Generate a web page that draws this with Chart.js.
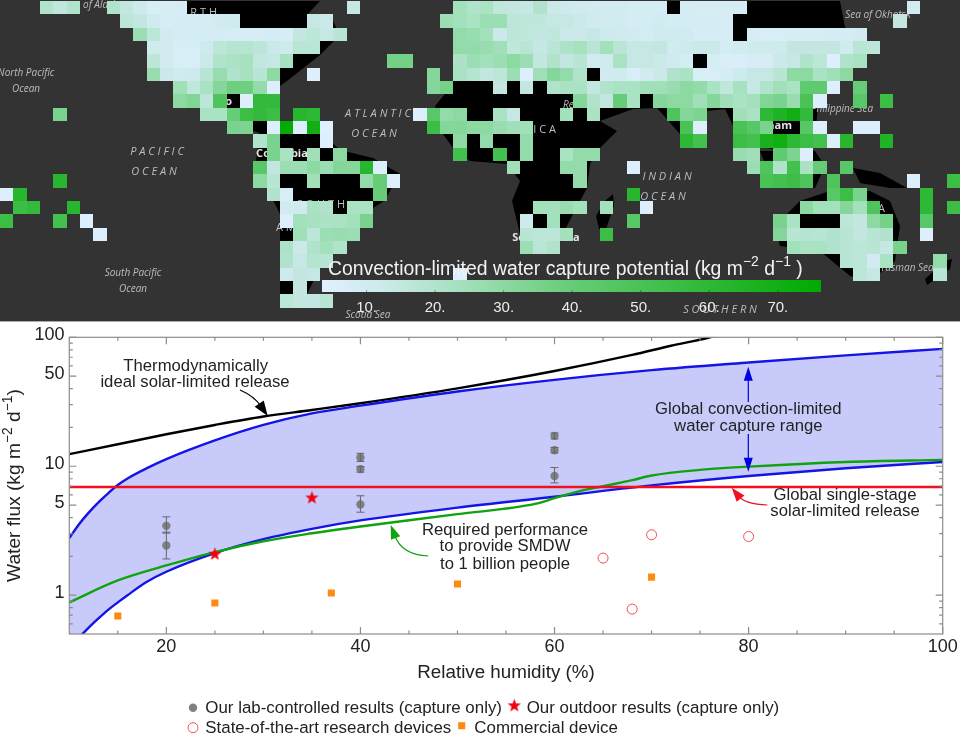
<!DOCTYPE html>
<html>
<head>
<meta charset="utf-8">
<title>Water capture</title>
<script src="https://cdn.jsdelivr.net/npm/chart.js@4"></script>
<style>
    html, body { margin: 0; padding: 0; background: #fff; }
    #page { position: relative; width: 960px; height: 748px; overflow: hidden; }
    canvas { position: absolute; left: 0; filter: blur(0.45px); }
    #mapa { top: 0; background: #333; box-shadow: 0 1px 0 #aaa; }
    #barra { top: 255px; }
    #fluxo { top: 322px; }
</style>
</head>
<body>
<div id="page">
    <canvas id="mapa" width="960" height="321"></canvas>
    <canvas id="barra" width="960" height="66"></canvas>
    <canvas id="fluxo" width="960" height="426"></canvas>
</div>
<script>
// Map cells, one list per row, each run is [first column, value, value, ...]
const mapRows = [
    [[3,20,16,20],[8,20,15,12,7,7,8],[26,14],[34,24,20,22,16,15,14,20,13,12,11,10,10,10,9,9,9],[51,9,8,8,8,8],[68,10]],
    [[9,17,15,11,8,9,9,9,10,11],[23,14,13],[33,26,24,22,26,26,17,16,16,14,14,13,11,10,10,9,9,10,9,9,9,9,8],[67,15]],
    [[10,26,17,10,9,9,9,9,8,8,8,9,8,15,17,14,18],[34,28,27,24,13,17,16,15,16,13,13,14,12,11,10,9,11,11,10,8,8,8],[56,8,7,7,8,8,8,9,9,10]],
    [[11,11,10,7,7,12,17,19,19,17,13,12,18,18],[34,28,28,27,25,16,18,14,18,21,23,18,24,18,14,14,15,10,12,13,13,9,10,11,11,12,15,15,15,15,11,18,17]],
    [[11,17,10,7,7,13,20,22,23,15,14,23],[29,36,36],[34,21,26,24,26,30,26,15,20,15,18,10,11,22,14,14,13,11,9],[53,8,6,6,8,8,13,14,20,17,5,20,22]],
    [[11,27,13,11,12,18,27,20,23,18,30],[23,5],[32,32],[34,22,19,15,17,26,5,25,32,28,20],[45,10,11,7,10,13,20,22,7,7,9,12,14,14,18,30,30,22,25,30]],
    [[13,25,16,22,32,38,38,28,5],[32,32,36],[37,15],[39,15],[41,20,22,22,15,20,22,22,25,25,27,30,28,22,16,23,14,20,25,22,42,42,5],[64,40]],
    [[13,30,33,17,48],[18,5,58,58],[43,32,20,15,40,22],[49,32,30,30,25,32,25,22,24,33,35,27,50,5],[64,45],[66,55]],
    [[4,35],[15,22,22,40,55,58,55],[22,62,60],[31,5,45,28,30],[37,22,14],[42,24],[44,22],[50,48,32,34],[55,25,22,60,65,70,58]],
    [[17,35,34],[20,5,75,5,70,4],[32,55,32,32,30,30,27,25,25],[51,50,5],[55,50,45,35],[60,45,5],[64,5,5]],
    [[19,20,35],[24,5],[34,30],[36,28],[39,28],[51,60,52],[55,55,52,68,70,60,55,52,5,62],[66,65]],
    [[20,35,22],[23,25],[25,30],[34,52],[37,52],[39,28],[42,22,28,28],[55,27,25],[58,42,34,5]],
    [[19,45,15,26,26,30,26,32,32,62,5],[38,25],[42,28,28],[47,5],[56,26,48,20,52,22,40],[63,45]],
    [[4,62],[19,30,18],[23,25],[27,28,40,5],[43,28],[57,50,52,54,48],[62,48],[68,5],[71,55]],
    [[0,5,62],[20,20,7],[28,40],[47,62],[62,45,55,35],[69,60]],
    [[1,55,58],[5,62],[21,10,11,22,20],[26,22,22],[40,24,24,27,24],[45,24],[48,5],[60,30,24,24,32,24,48],[69,60],[71,55]],
    [[0,55],[4,52],[6,5],[21,5,24,23,21,22,24,35],[39,12],[41,24],[47,45],[58,35,22],[63,17,15,30,36],[69,45]],
    [[7,5],[22,25,17,26,27,26],[39,18,17,17,24],[45,55],[58,32,18,19,18,20,18,15,18,20],[69,5]],
    [[21,21,13,20,24,20],[39,26,18,20],[59,24,22,22,20,18,17,18,14,35]],
    [[21,20,14,19,18],[63,18,17,10,22],[70,28]],
    [[21,12,15,14],[34,5],[64,17,14],[70,18]],
    [[22,15]],
    [[21,17,15,15,18]],
    []
];

// Land outlines in map units
const landAmericaNorte = [[107,0],[320,0],[307,14],[333,20],[340,34],[320,54],[287,80],[267,94],[240,100],[200,87],[173,74],[147,40],[133,27]];
const landAmericaCentro = [[200,87],[240,100],[267,120],[280,127],[267,134],[253,130],[227,107]];
const landAmericaSul = [[260,127],[280,130],[320,131],[340,149],[373,157],[400,173],[384,200],[373,207],[360,220],[347,240],[333,247],[320,267],[307,293],[293,300],[280,300],[280,253],[280,213],[267,187],[256,160]];
const landAfroEurasia = [[453,0],[840,0],[845,26],[860,40],[850,70],[820,85],[815,135],[780,150],[757,145],[737,133],[725,108],[707,110],[693,147],[680,133],[657,107],[633,108],[600,120],[617,130],[600,147],[590,163],[587,187],[573,213],[563,233],[557,250],[527,253],[520,233],[512,200],[520,180],[507,163],[470,160],[453,147],[443,133],[435,105],[453,83]];
const landIndonesia = [[760,150],[815,150],[825,165],[815,187],[775,187]];
const landPapua = [[853,167],[880,172],[907,187],[890,187],[860,182]];
const landAustralia = [[775,225],[800,200],[830,190],[870,190],[890,200],[900,225],[895,260],[870,280],[850,275],[820,250],[780,245]];
const landNovaZelandia = [[927,284],[950,268],[952,258],[945,260],[925,278]];
const landMadagascar = [[599,228],[596,215],[605,200],[613,193],[614,205],[606,228]];
const mapLand = [landAmericaNorte, landAmericaCentro, landAmericaSul, landAfroEurasia, landIndonesia, landPapua, landAustralia, landNovaZelandia, landMadagascar];

// Colour ramp of the map
const rampValues = [3.5, 12, 25, 40, 60, 76.3];
const rampColors = [[224,240,255], [205,234,236], [160,223,184], [102,204,119], [45,184,53], [0,170,0]];
const colorbarTicks = [10, 20, 30, 40, 50, 60, 70];

// Place names under the cells: text, x, y, font, align
const mapLabels = [
    ['of Alaska', 83, 4, 'italic 10px', 'left'],
    ['N O R T H', 217, 12, '11px', 'right'],
    ['North Pacific', 26, 72, 'italic 10px', 'center'],
    ['Ocean', 26, 88, 'italic 10px', 'center'],
    ['P A C I F I C', 157, 151, 'italic 11px', 'center'],
    ['O C E A N', 154, 171, 'italic 11px', 'center'],
    ['A T L A N T I C', 378, 113, 'italic 11px', 'center'],
    ['O C E A N', 374, 133, 'italic 11px', 'center'],
    ['Mexico', 232, 101, 'bold 11px', 'right'],
    ['Colombia', 282, 153, 'bold 11px', 'center'],
    ['S O U T H', 345, 204, '11px', 'right'],
    ['A M E R I C A', 276, 227, '11px', 'left'],
    ['South Pacific', 133, 272, 'italic 10px', 'center'],
    ['Ocean', 133, 288, 'italic 10px', 'center'],
    ['Scotia Sea', 368, 314, 'italic 10px', 'center'],
    ['S O U T H E R N', 720, 309, 'italic 11px', 'center'],
    ['A F R I C A', 556, 129, '11px', 'right'],
    ['Red Sea', 563, 104, 'italic 10px', 'left'],
    ['South Africa', 546, 237, 'bold 11px', 'center'],
    ['I N D I A N', 667, 176, 'italic 11px', 'center'],
    ['O C E A N', 663, 196, 'italic 11px', 'center'],
    ['Vietnam', 792, 125, 'bold 11px', 'right'],
    ['Philippine Sea', 842, 108, 'italic 10px', 'center'],
    ['Sea of Okhotsk', 878, 14, 'italic 10px', 'center'],
    ['A U S T R A L I A', 885, 208, '11px', 'right'],
    ['Tasman Sea', 907, 267, 'italic 10px', 'center']
];

// Lower chart
const curveHumidity = [10, 11, 12, 13, 14, 15, 16, 18, 20, 25, 30, 35, 40, 50, 60, 70, 80, 90, 100];
const convectionUpper = [2.77, 3.55, 4.37, 5.25, 6.17, 7.16, 8.04, 9.66, 11.35, 15.85, 20.9, 25.7, 29.5, 38, 46.8, 55.6, 63.8, 72.4, 81.3];
const convectionLower = [0.4, 0.47, 0.56, 0.66, 0.77, 0.88, 1.0, 1.27, 1.52, 2.12, 2.72, 3.27, 3.8, 4.78, 5.8, 7.1, 8.4, 9.65, 10.8];

const blackHumidity = [10, 15, 20, 25, 30, 35, 40, 50, 60, 68, 72, 76, 80];
const blackFlux = [12.4, 14.8, 17.7, 20.9, 24.3, 27.3, 30.8, 40.2, 54.8, 73, 86, 100, 125];

const greenHumidity = [10, 15, 20, 25, 30, 35, 40, 50, 58, 60, 62, 65, 68, 70, 75, 80, 90, 100];
const greenFlux = [0.88, 1.3, 1.7, 2.16, 2.62, 3.02, 3.41, 4.25, 5.1, 5.65, 6.25, 7.0, 7.8, 8.47, 9.37, 9.94, 10.8, 11.2];

const redHumidity = [10, 100];
const redFlux = [6.9, 6.9];

const labHumidity = [20, 20, 40, 40, 40, 60, 60, 60];
const labFlux = [3.45, 2.43, 11.7, 9.5, 5.05, 17.2, 13.3, 8.4];
const labLow = [3.03, 1.91, 10.9, 9, 4.4, 16.3, 12.7, 7.43];
const labHigh = [4.05, 3.08, 12.6, 9.94, 5.9, 18.1, 14, 9.77];

const outdoorHumidity = [25, 35];
const outdoorFlux = [2.08, 5.68];

const researchHumidity = [65, 70, 68, 80];
const researchFlux = [1.94, 2.94, 0.78, 2.85];

const commercialHumidity = [15, 25, 37, 50, 70];
const commercialFlux = [0.69, 0.87, 1.04, 1.22, 1.38];

const xLabelTicks = [20, 40, 60, 80, 100];
const xMinorTicks = [15, 25, 30, 35, 45, 50, 55, 65, 70, 75, 85, 90, 95];
const yLabelTicks = [1, 5, 10, 50, 100];
const yMinorTicks = [0.6, 0.7, 0.8, 0.9, 2, 3, 4, 6, 7, 8, 9, 20, 30, 40, 60, 70, 80, 90];

const FONTE = '"Liberation Sans", Arial, sans-serif';
const TEXTO = '#222';
const AZUL = '#1414e6';
const VERDE = '#0fa30f';
const VERMELHO = '#f01020';
const CELULA = 960 / 72;

function juntar(xs, ys) {
    return xs.map((x, i) => ({ x: x, y: ys[i] }));
}

function corDoValor(v) {
    let i = 0;
    while (i < rampValues.length - 2 && v > rampValues[i + 1]) i++;
    const t = Math.min(1, Math.max(0, (v - rampValues[i]) / (rampValues[i + 1] - rampValues[i])));
    const c = rampColors[i].map((a, k) => Math.round(a + (rampColors[i + 1][k] - a) * t));
    return `rgb(${c[0]},${c[1]},${c[2]})`;
}

// Text with raised parts, pieces are [text, raised]
function textoComExpoente(ctx, pedacos, x, y, tamanho) {
    let pos = x;
    ctx.textBaseline = 'middle';
    ctx.textAlign = 'left';
    pedacos.forEach(([texto, alto]) => {
        ctx.font = `${alto ? tamanho * 0.72 : tamanho}px ${FONTE}`;
        ctx.fillText(texto, pos, alto ? y - tamanho * 0.36 : y);
        pos += ctx.measureText(texto).width;
    });
}

function seta(ctx, x0, y0, cx, cy, x1, y1, cor, largura, compr, meia) {
    const ang = Math.atan2(y1 - cy, x1 - cx);
    const bx = x1 - Math.cos(ang) * compr * 0.8;
    const by = y1 - Math.sin(ang) * compr * 0.8;
    ctx.strokeStyle = cor;
    ctx.fillStyle = cor;
    ctx.lineWidth = largura;
    ctx.beginPath();
    ctx.moveTo(x0, y0);
    ctx.quadraticCurveTo(cx, cy, bx, by);
    ctx.stroke();
    ctx.beginPath();
    ctx.moveTo(x1, y1);
    ctx.lineTo(x1 - Math.cos(ang) * compr - Math.sin(ang) * meia, y1 - Math.sin(ang) * compr + Math.cos(ang) * meia);
    ctx.lineTo(x1 - Math.cos(ang) * compr + Math.sin(ang) * meia, y1 - Math.sin(ang) * compr - Math.cos(ang) * meia);
    ctx.closePath();
    ctx.fill();
}

// Mapa: cada celula e um ponto com um quadrado de tamanho inteiro, assim nao aparecem emendas
const celulas = [];
const quadrados = {};
function quadrado(l, a, cor) {
    const chave = l + '/' + a + '/' + cor;
    if (!quadrados[chave]) {
        const tela = document.createElement('canvas');
        tela.width = l;
        tela.height = a;
        const c = tela.getContext('2d');
        c.fillStyle = cor;
        c.fillRect(0, 0, l, a);
        quadrados[chave] = tela;
    }
    return quadrados[chave];
}
mapRows.forEach((linha, r) => {
    const y0 = Math.round(r * CELULA);
    const y1 = Math.round((r + 1) * CELULA);
    linha.forEach(([inicio, ...valores]) => {
        valores.forEach((v, i) => {
            const x0 = Math.round((inicio + i) * CELULA);
            const x1 = Math.round((inicio + i + 1) * CELULA);
            celulas.push({ x: (x0 + x1) / 2, y: (y0 + y1) / 2, v: v, l: x1 - x0, a: y1 - y0 });
        });
    });
});

const nomesNoMapa = {
    id: 'nomesNoMapa',
    beforeDatasetDraw(chart, args) {
        if (args.index !== 0) return;
        const { ctx, scales } = chart;
        ctx.save();
        ctx.textBaseline = 'middle';
        mapLabels.forEach(([texto, x, y, fonte, alinhar]) => {
            ctx.font = `${fonte} "Open Sans", ${FONTE}`;
            ctx.textAlign = alinhar;
            ctx.fillStyle = fonte.startsWith('bold') ? '#e4e4e4' : '#bdbdbd';
            ctx.fillText(texto, scales.x.getPixelForValue(x), scales.y.getPixelForValue(y));
        });
        ctx.restore();
    }
};

new Chart(document.getElementById('mapa'), {
    type: 'scatter',
    data: {
        datasets: [{
            data: celulas,
            pointRadius: 7,
            pointBorderWidth: 0,
            pointStyle: c => (c.raw ? quadrado(c.raw.l, c.raw.a, corDoValor(c.raw.v)) : 'rect')
        }].concat(mapLand.map(contorno => ({
            data: contorno.map(([x, y]) => ({ x: x, y: y })),
            showLine: true,
            fill: 'shape',
            backgroundColor: '#000',
            borderColor: '#000',
            borderWidth: 0,
            pointRadius: 0
        })))
    },
    options: {
        responsive: false,
        animation: false,
        devicePixelRatio: 1,
        events: [],
        layout: { autoPadding: false, padding: { top: 1 } },
        plugins: { legend: { display: false }, tooltip: { enabled: false } },
        scales: {
            x: { type: 'linear', display: false, min: 0, max: 960 },
            y: { type: 'linear', display: false, min: 0, max: 320, reverse: true }
        }
    },
    plugins: [nomesNoMapa]
});

// Barra de cores
const barraDeCores = {
    id: 'barraDeCores',
    beforeDatasetsDraw(chart) {
        const { ctx, chartArea: a, scales } = chart;
        const grad = ctx.createLinearGradient(a.left, 0, a.right, 0);
        const total = rampValues[rampValues.length - 1] - rampValues[0];
        rampValues.forEach((v, i) => {
            grad.addColorStop((v - rampValues[0]) / total, corDoValor(v));
        });
        ctx.save();
        ctx.fillStyle = grad;
        ctx.fillRect(a.left, a.top, a.right - a.left, a.bottom - a.top);
        ctx.strokeStyle = 'rgba(0,0,0,0.35)';
        colorbarTicks.forEach(v => {
            const x = scales.x.getPixelForValue(v);
            ctx.beginPath();
            ctx.moveTo(x, a.bottom);
            ctx.lineTo(x, a.bottom - 2);
            ctx.stroke();
        });
        ctx.fillStyle = '#f2f2f2';
        textoComExpoente(ctx, [['Convection-limited water capture potential (kg m', 0], ['−2', 1], [' d', 0], ['−1', 1], [' )', 0]], 328, 14.5, 19.4);
        ctx.restore();
    }
};

new Chart(document.getElementById('barra'), {
    type: 'scatter',
    data: { datasets: [{ data: [], pointRadius: 0 }] },
    options: {
        responsive: false,
        animation: false,
        devicePixelRatio: 1,
        events: [],
        layout: { autoPadding: false, padding: { left: 322, right: 139, top: 25 } },
        plugins: { legend: { display: false }, tooltip: { enabled: false } },
        scales: {
            x: {
                type: 'linear',
                min: rampValues[0],
                max: rampValues[rampValues.length - 1],
                afterBuildTicks: s => { s.ticks = colorbarTicks.map(v => ({ value: v })); },
                afterFit: s => { s.height = 29; },
                grid: { display: false, drawTicks: false },
                border: { display: false },
                ticks: {
                    padding: 7,
                    color: '#ececec',
                    maxRotation: 0,
                    autoSkip: false,
                    font: { family: FONTE, size: 15 },
                    callback: v => v + '.'
                }
            },
            y: { display: false, min: 0, max: 1 }
        }
    },
    plugins: [barraDeCores]
});

// Grafico de fluxo
function estrela() {
    const tela = document.createElement('canvas');
    tela.width = 15;
    tela.height = 15;
    const c = tela.getContext('2d');
    c.fillStyle = '#f5000f';
    c.beginPath();
    for (let i = 0; i < 10; i++) {
        const r = i % 2 ? 2.9 : 7;
        const ang = -Math.PI / 2 + i * Math.PI / 5;
        c.lineTo(7.5 + r * Math.cos(ang), 7.5 + r * Math.sin(ang));
    }
    c.closePath();
    c.fill();
    return tela;
}
const marcaEstrela = estrela();

const desenhoFluxo = {
    id: 'desenhoFluxo',
    afterDatasetsDraw(chart) {
        const { ctx, scales: { x, y } } = chart;
        ctx.save();
        // barras de erro
        ctx.strokeStyle = '#666';
        ctx.lineWidth = 1;
        labHumidity.forEach((h, i) => {
            const px = x.getPixelForValue(h);
            const lo = y.getPixelForValue(labLow[i]);
            const hi = y.getPixelForValue(labHigh[i]);
            ctx.beginPath();
            ctx.moveTo(px, lo); ctx.lineTo(px, hi);
            ctx.moveTo(px - 4, lo); ctx.lineTo(px + 4, lo);
            ctx.moveTo(px - 4, hi); ctx.lineTo(px + 4, hi);
            ctx.stroke();
        });
        ctx.restore();
    },
    afterDraw(chart) {
        const { ctx, chartArea: a, scales: { x, y } } = chart;
        const topo = 322;
        ctx.save();
        // moldura e marcas
        ctx.strokeStyle = '#8c8c8c';
        ctx.lineWidth = 1.2;
        ctx.strokeRect(a.left, a.top, a.right - a.left, a.bottom - a.top);
        const marcaX = (lista, t) => lista.forEach(v => {
            const px = x.getPixelForValue(v);
            ctx.beginPath();
            ctx.moveTo(px, a.bottom); ctx.lineTo(px, a.bottom - t);
            ctx.moveTo(px, a.top); ctx.lineTo(px, a.top + t);
            ctx.stroke();
        });
        const marcaY = (lista, t) => lista.forEach(v => {
            const py = y.getPixelForValue(v);
            ctx.beginPath();
            ctx.moveTo(a.left, py); ctx.lineTo(a.left + t, py);
            ctx.moveTo(a.right, py); ctx.lineTo(a.right - t, py);
            ctx.stroke();
        });
        marcaX(xLabelTicks, 7);
        marcaX(xMinorTicks, 3.5);
        marcaY(yLabelTicks, 7);
        marcaY(yMinorTicks, 3.5);

        // rotulos do eixo y, um pouco acima da marca como na figura
        ctx.fillStyle = TEXTO;
        ctx.font = `18px ${FONTE}`;
        ctx.textAlign = 'right';
        ctx.textBaseline = 'middle';
        yLabelTicks.forEach(v => ctx.fillText(String(v), 64.5, y.getPixelForValue(v) - 2));

        // setas
        seta(ctx, 240, 390 - topo, 254, 396 - topo, 267.7, 416 - topo, '#000', 1.2, 15, 5.5);
        seta(ctx, 428.3, 556 - topo, 402, 555 - topo, 390.7, 525 - topo, VERDE, 1.2, 14, 5);
        seta(ctx, 767.3, 505 - topo, 745, 504 - topo, 731.7, 487.7 - topo, VERMELHO, 1.2, 14, 5);
        seta(ctx, 748.3, 402 - topo, 748.3, 385 - topo, 748.3, 366.7 - topo, '#0000e0', 1.2, 14, 4.5);
        seta(ctx, 748.3, 434 - topo, 748.3, 452 - topo, 748.3, 471.7 - topo, '#0000e0', 1.2, 14, 4.5);

        // anotacoes
        ctx.fillStyle = TEXTO;
        ctx.textBaseline = 'middle';
        ctx.textAlign = 'center';
        ctx.font = `16.7px ${FONTE}`;
        [
            ['Thermodynamically', 195.7, 366],
            ['ideal solar-limited release', 195, 382.7],
            ['Required performance', 505, 530],
            ['to provide SMDW', 505, 546.7],
            ['to 1 billion people', 505, 564],
            ['Global convection-limited', 748.3, 409.3],
            ['water capture range', 748.3, 426.3],
            ['Global single-stage', 845, 495],
            ['solar-limited release', 845, 511.7]
        ].forEach(([t, px, py]) => ctx.fillText(t, px, py - topo));

        // titulos
        ctx.font = `18.8px ${FONTE}`;
        ctx.fillText('Relative humidity (%)', 506, 672.7 - topo);
        ctx.save();
        ctx.translate(15, 582 - topo);
        ctx.rotate(-Math.PI / 2);
        textoComExpoente(ctx, [['Water flux (kg m', 0], ['−2', 1], [' d', 0], ['−1', 1], [')', 0]], 0, 0, 19.2);
        ctx.restore();

        // legenda
        const desenha = Chart.helpers.drawPoint;
        ctx.fillStyle = '#808080';
        ctx.strokeStyle = '#808080';
        ctx.lineWidth = 0;
        desenha(ctx, { pointStyle: 'circle', radius: 4.2, borderWidth: 0 }, 193, 707.7 - topo);
        desenha(ctx, { pointStyle: marcaEstrela, radius: 7, borderWidth: 0 }, 514.3, 705.7 - topo);
        ctx.fillStyle = 'rgba(0,0,0,0)';
        ctx.strokeStyle = '#f05050';
        ctx.lineWidth = 1;
        desenha(ctx, { pointStyle: 'circle', radius: 5, borderWidth: 1 }, 193, 727.7 - topo);
        ctx.fillStyle = '#ff8a10';
        ctx.lineWidth = 0;
        desenha(ctx, { pointStyle: 'rect', radius: 5, borderWidth: 0 }, 461.7, 725.7 - topo);
        ctx.fillStyle = TEXTO;
        ctx.textAlign = 'left';
        ctx.textBaseline = 'middle';
        ctx.font = `16.9px ${FONTE}`;
        ctx.fillText('Our lab-controlled results (capture only)', 205.3, 708 - topo);
        ctx.fillText('Our outdoor results (capture only)', 526.7, 708 - topo);
        ctx.fillText('State-of-the-art research devices', 205.3, 728 - topo);
        ctx.fillText('Commercial device', 474.3, 728 - topo);
        ctx.restore();
    }
};

new Chart(document.getElementById('fluxo'), {
    type: 'scatter',
    data: {
        datasets: [
            {
                label: 'Our outdoor results (capture only)',
                data: juntar(outdoorHumidity, outdoorFlux),
                pointStyle: marcaEstrela
            },
            {
                label: 'Our lab-controlled results (capture only)',
                data: juntar(labHumidity, labFlux),
                pointStyle: 'circle',
                pointRadius: 4.2,
                pointBorderWidth: 0,
                pointBackgroundColor: '#808080'
            },
            {
                label: 'State-of-the-art research devices',
                data: juntar(researchHumidity, researchFlux),
                pointStyle: 'circle',
                pointRadius: 5,
                pointBorderWidth: 1,
                pointBorderColor: '#f05050',
                pointBackgroundColor: 'rgba(0,0,0,0)'
            },
            {
                label: 'Commercial device',
                data: juntar(commercialHumidity, commercialFlux),
                pointStyle: 'rect',
                pointRadius: 5,
                pointBorderWidth: 0,
                pointBackgroundColor: '#ff8a10'
            },
            {
                label: 'Global single-stage solar-limited release',
                data: juntar(redHumidity, redFlux),
                showLine: true,
                borderColor: VERMELHO,
                borderWidth: 2.4,
                pointRadius: 0
            },
            {
                label: 'Required performance',
                data: juntar(greenHumidity, greenFlux),
                showLine: true,
                cubicInterpolationMode: 'monotone',
                borderColor: VERDE,
                borderWidth: 2.4,
                pointRadius: 0
            },
            {
                label: 'Convection-limited lower',
                data: juntar(curveHumidity, convectionLower),
                showLine: true,
                cubicInterpolationMode: 'monotone',
                borderColor: AZUL,
                borderWidth: 2.4,
                pointRadius: 0
            },
            {
                label: 'Convection-limited upper',
                data: juntar(curveHumidity, convectionUpper),
                showLine: true,
                cubicInterpolationMode: 'monotone',
                borderColor: AZUL,
                borderWidth: 2.4,
                pointRadius: 0,
                fill: { target: 6, above: '#c8cbfa', below: '#c8cbfa' }
            },
            {
                label: 'Thermodynamically ideal solar-limited release',
                data: juntar(blackHumidity, blackFlux),
                showLine: true,
                cubicInterpolationMode: 'monotone',
                borderColor: '#000',
                borderWidth: 2.4,
                pointRadius: 0
            }
        ]
    },
    options: {
        responsive: false,
        animation: false,
        devicePixelRatio: 1,
        events: [],
        layout: { autoPadding: false, padding: { top: 15.3, right: 17.3 } },
        plugins: { legend: { display: false }, tooltip: { enabled: false } },
        scales: {
            x: {
                type: 'linear',
                min: 10,
                max: 100,
                afterBuildTicks: s => { s.ticks = xLabelTicks.map(v => ({ value: v })); },
                afterFit: s => { s.height = 114; },
                grid: { display: false, drawTicks: false },
                border: { display: false },
                ticks: {
                    padding: 2,
                    color: TEXTO,
                    maxRotation: 0,
                    autoSkip: false,
                    font: { family: FONTE, size: 18 }
                }
            },
            y: {
                type: 'logarithmic',
                min: 0.5,
                max: 100,
                afterBuildTicks: s => { s.ticks = yLabelTicks.map(v => ({ value: v })); },
                afterFit: s => { s.width = 69.3; },
                grid: { display: false, drawTicks: false },
                border: { display: false },
                ticks: { display: false }
            }
        }
    },
    plugins: [desenhoFluxo]
});
</script>
</body>
</html>
